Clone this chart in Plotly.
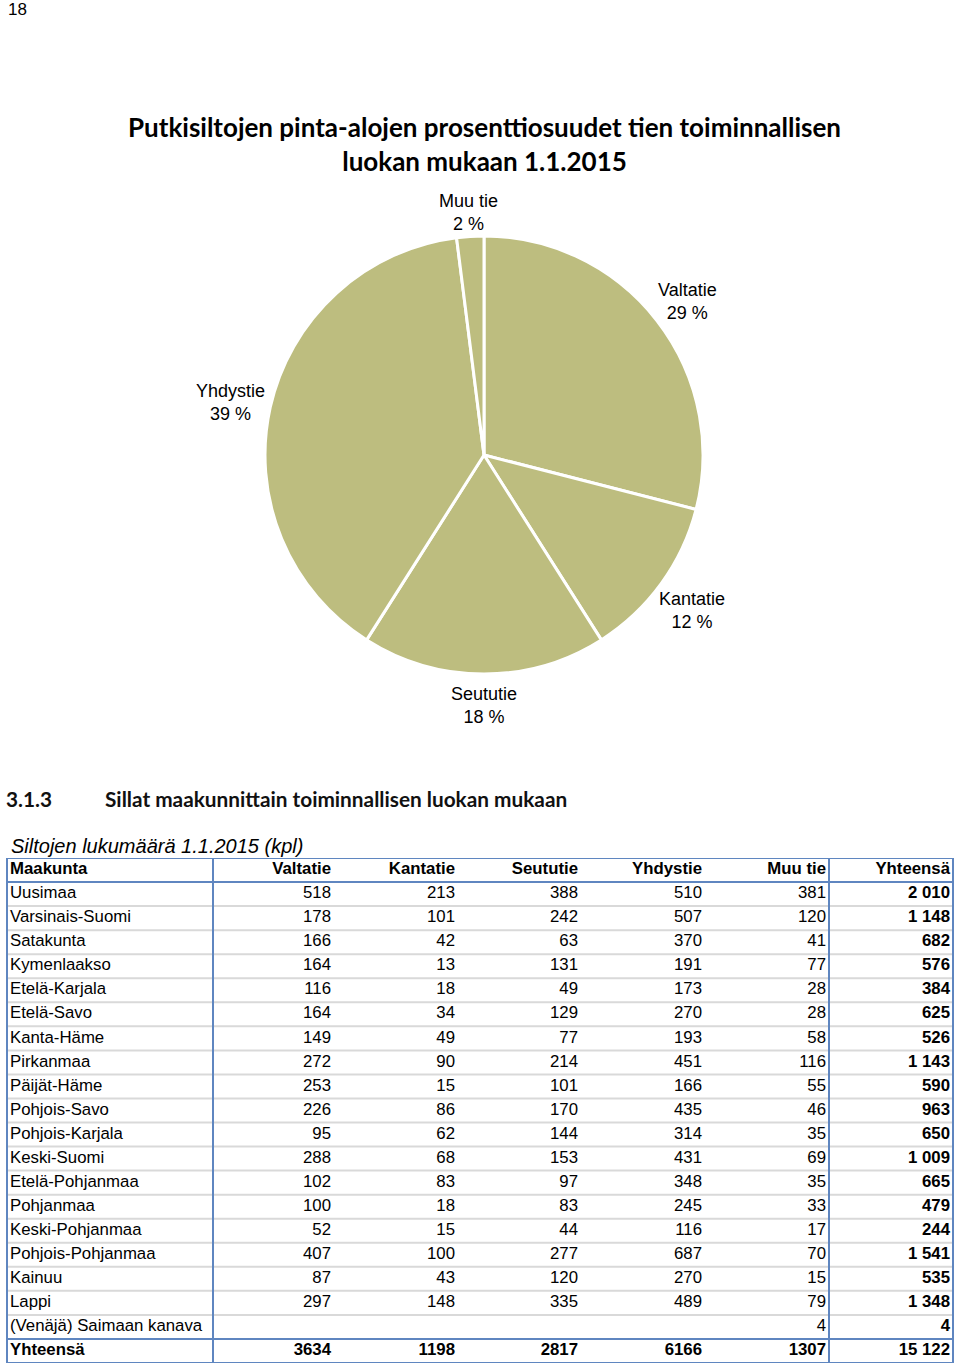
import math
import plotly.graph_objects as go

W, H = 960, 1371

# ---------------- data ----------------
pie_labels = ["Valtatie", "Kantatie", "Seututie", "Yhdystie", "Muu tie"]
pie_values = [29, 12, 18, 39, 2]

col_headers = ["Maakunta", "Valtatie", "Kantatie", "Seututie", "Yhdystie", "Muu tie", "Yhteensä"]

regions = ["Uusimaa", "Varsinais-Suomi", "Satakunta", "Kymenlaakso", "Etelä-Karjala",
           "Etelä-Savo", "Kanta-Häme", "Pirkanmaa", "Päijät-Häme", "Pohjois-Savo",
           "Pohjois-Karjala", "Keski-Suomi", "Etelä-Pohjanmaa", "Pohjanmaa",
           "Keski-Pohjanmaa", "Pohjois-Pohjanmaa", "Kainuu", "Lappi",
           "(Venäjä) Saimaan kanava"]
valtatie = [518, 178, 166, 164, 116, 164, 149, 272, 253, 226, 95, 288, 102, 100, 52, 407, 87, 297, None]
kantatie = [213, 101, 42, 13, 18, 34, 49, 90, 15, 86, 62, 68, 83, 18, 15, 100, 43, 148, None]
seututie = [388, 242, 63, 131, 49, 129, 77, 214, 101, 170, 144, 153, 97, 83, 44, 277, 120, 335, None]
yhdystie = [510, 507, 370, 191, 173, 270, 193, 451, 166, 435, 314, 431, 348, 245, 116, 687, 270, 489, None]
muu_tie = [381, 120, 41, 77, 28, 28, 58, 116, 55, 46, 35, 69, 35, 33, 17, 70, 15, 79, 4]
yhteensa = [2010, 1148, 682, 576, 384, 625, 526, 1143, 590, 963, 650, 1009, 665, 479, 244, 1541, 535, 1348, 4]

total_label = "Yhteensä"
totals = [3634, 1198, 2817, 6166, 1307, 15122]

# ---------------- styling ----------------
PIE_COLOR = "#BDBD7F"
BLUE = "#5F86C0"
GRAY = "#D9D9D9"
ARIAL = "Liberation Sans, Arial, sans-serif"
TITLE_FONT = "Lato, Carlito, Calibri, sans-serif"


def py(px):
    """pixel y (from top) -> paper y"""
    return 1 - px / H


fig = go.Figure()

# ---------------- pie ----------------
pcx, pcy, pr = 484, 455, 219
fig.add_trace(go.Pie(
    labels=pie_labels, values=pie_values, sort=False, direction="clockwise",
    rotation=0, textinfo="none", hoverinfo="label+percent",
    marker=dict(colors=[PIE_COLOR] * len(pie_values), line=dict(color="white", width=3)),
    domain=dict(x=[(pcx - pr) / W, (pcx + pr) / W], y=[py(pcy + pr), py(pcy - pr)]),
    showlegend=False,
))

annotations = []
total_v = sum(pie_values)
cum = 0
lab_fs = 18
for lab, v in zip(pie_labels, pie_values):
    mid = (cum + v / 2) / total_v * 2 * math.pi
    cum += v
    R = pr + 1.5 * lab_fs + 0.8 * lab_fs * abs(math.sin(mid))
    lx = pcx + R * math.sin(mid)
    ly = pcy - R * math.cos(mid) + 4
    pct = round(v / total_v * 100)
    annotations.append(dict(
        x=lx / W, y=py(ly), xref="paper", yref="paper", xanchor="center", yanchor="middle",
        text=f"{lab}<br>{pct} %", showarrow=False, align="center",
        font=dict(family=ARIAL, size=lab_fs, color="black")))

# ---------------- page texts ----------------
annotations.append(dict(x=6 / W, y=py(10), xref="paper", yref="paper", xanchor="left", yanchor="middle",
                        text="18", showarrow=False, font=dict(family=ARIAL, size=17, color="black")))
annotations.append(dict(x=484 / W, y=py(144), xref="paper", yref="paper", xanchor="center", yanchor="middle",
                        text="<b>Putkisiltojen pinta-alojen prosenttiosuudet tien toiminnallisen<br>luokan mukaan 1.1.2015</b>",
                        showarrow=False, align="center",
                        font=dict(family=TITLE_FONT, size=26, color="black")))
annotations.append(dict(x=4 / W, y=py(798), xref="paper", yref="paper", xanchor="left", yanchor="middle",
                        text="<b>3.1.3</b>", showarrow=False,
                        font=dict(family=TITLE_FONT, size=20.8, color="#111111")))
annotations.append(dict(x=103 / W, y=py(798), xref="paper", yref="paper", xanchor="left", yanchor="middle",
                        text="<b>Sillat maakunnittain toiminnallisen luokan mukaan</b>", showarrow=False,
                        font=dict(family=TITLE_FONT, size=20.8, color="#111111")))
annotations.append(dict(x=9 / W, y=py(846), xref="paper", yref="paper", xanchor="left", yanchor="middle",
                        text="<i>Siltojen lukumäärä 1.1.2015 (kpl)</i>", showarrow=False,
                        font=dict(family=ARIAL, size=20, color="black")))

# ---------------- table ----------------
tbl_left, tbl_right = 7, 953
tbl_top, tbl_bot = 858, 1363
n_rows = 1 + len(regions) + 1
name_x = 10
col_right = [331, 455, 578, 702, 826, 950]
sep1_x, sep2_x = 213, 829

table_cols = [valtatie, kantatie, seututie, yhdystie, muu_tie, yhteensa]


def fmt(v, spaced):
    if v is None:
        return ""
    return f"{v:,}".replace(",", " ") if spaced else str(v)


row_y = [i + 0.5 for i in range(n_rows)]
tfont = dict(family=ARIAL, size=16.8, color="black")

# first column
names = [f"<b>{col_headers[0]}</b>"] + regions + [f"<b>{total_label}</b>"]
fig.add_trace(go.Scatter(x=[name_x] * n_rows, y=row_y, mode="text", text=names,
                         textposition="middle right", textfont=tfont, hoverinfo="skip",
                         showlegend=False, xaxis="x", yaxis="y", cliponaxis=False))
for ci, (xr, vals) in enumerate(zip(col_right, table_cols)):
    spaced = ci == len(table_cols) - 1
    cells = [f"<b>{col_headers[ci + 1]}</b>"]
    for v in vals:
        s = fmt(v, spaced)
        cells.append(f"<b>{s}</b>" if spaced and s else s)
    cells.append(f"<b>{fmt(totals[ci], spaced)}</b>")
    fig.add_trace(go.Scatter(x=[xr] * n_rows, y=row_y, mode="text", text=cells,
                             textposition="middle left", textfont=tfont, hoverinfo="skip",
                             showlegend=False, xaxis="x", yaxis="y", cliponaxis=False))

shapes = []
# light gray row separators
for r in range(2, n_rows - 1):
    shapes.append(dict(type="line", xref="x", yref="y", x0=tbl_left, x1=tbl_right, y0=r, y1=r,
                       line=dict(color=GRAY, width=2), layer="below"))
# blue lines
for r in (1, n_rows - 1):
    shapes.append(dict(type="line", xref="x", yref="y", x0=tbl_left, x1=tbl_right, y0=r, y1=r,
                       line=dict(color=BLUE, width=2)))
for xv in (sep1_x, sep2_x):
    shapes.append(dict(type="line", xref="x", yref="y", x0=xv, x1=xv, y0=0, y1=n_rows,
                       line=dict(color=BLUE, width=2)))
shapes.append(dict(type="rect", xref="x", yref="y", x0=tbl_left, x1=tbl_right, y0=0, y1=n_rows,
                   line=dict(color=BLUE, width=2)))

fig.update_layout(
    width=W, height=H, margin=dict(l=0, r=0, t=0, b=0),
    paper_bgcolor="white", plot_bgcolor="white",
    xaxis=dict(domain=[0, 1], range=[0, W], visible=False, fixedrange=True),
    yaxis=dict(domain=[py(tbl_bot), py(tbl_top)], range=[n_rows, 0], visible=False, fixedrange=True),
    annotations=annotations, shapes=shapes, showlegend=False,
)

fig.write_html("out.html")
